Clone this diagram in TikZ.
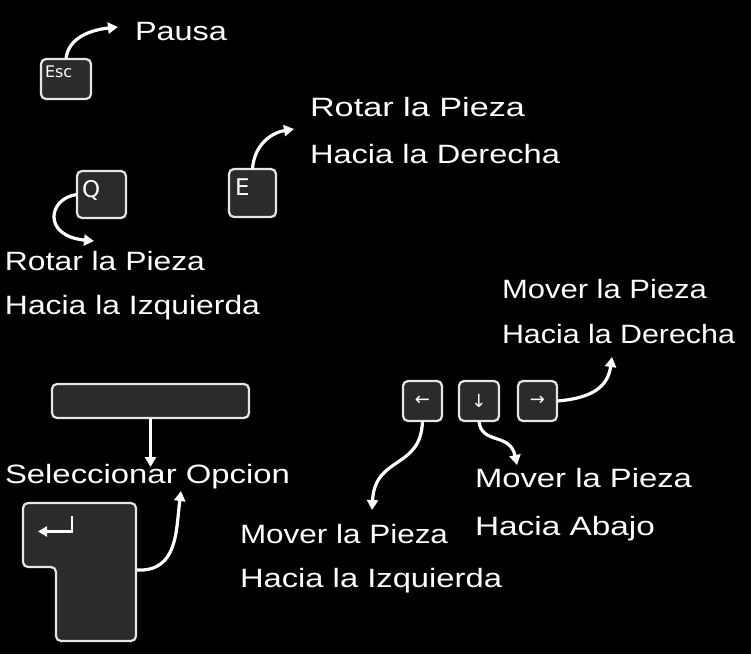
\documentclass[tikz,border=0pt]{standalone}
\usepackage{fontspec}
\usepackage{graphicx}
\usetikzlibrary{arrows.meta}
\newfontfamily\pixf{Liberation Sans}
\newfontfamily\keyf{DejaVu Sans}
\newcommand{\fitw}[2]{\resizebox{#1}{\height}{#2}}
\definecolor{keyfill}{HTML}{2C2A2D}
\definecolor{keyedge}{HTML}{E6E6E6}
\begin{document}
\begin{tikzpicture}[x=1pt,y=-1pt,
 key/.style={draw=keyedge, fill=keyfill, line width=2.2pt, rounded corners=5pt, anchor=north west, inner sep=0pt, outer sep=0pt},
 lbl/.style={text=white, inner sep=0pt, outer sep=0pt, anchor=base west, font=\pixf\fontsize{26.5}{30}\selectfont},
 keylbl/.style={text=white, inner sep=0pt, outer sep=0pt, anchor=base west},
 arrlbl/.style={text=white, inner sep=0pt, font=\keyf\fontsize{18}{20}\selectfont},
 conn/.style={draw=white, line width=3.2pt, -{Triangle[length=10pt,width=11pt]}},
]
\fill[black] (0,0) rectangle (751,654);
\useasboundingbox (0,0) rectangle (751,654);

% keys
\node[key, minimum width=50pt, minimum height=40pt] (esc) at (41,59) {};
\node[key, minimum width=49pt, minimum height=47pt] (q) at (77,171) {};
\node[key, minimum width=47pt, minimum height=48pt] (e) at (229,169) {};
\node[key, minimum width=39pt, minimum height=40pt] (left) at (403,381) {};
\node[key, minimum width=40pt, minimum height=40pt] (down) at (459,381) {};
\node[key, minimum width=39pt, minimum height=40pt] (right) at (518,381) {};
\node[key, minimum width=197pt, minimum height=34pt] (space) at (52,384) {};
\draw[draw=keyedge, fill=keyfill, line width=2.2pt, rounded corners=5pt]
  (80,503) -- (136,503) -- (136,641) -- (56,641) -- (56,567) -- (23,567) -- (23,503) -- cycle;
\coordinate (enterR) at (137,570);

% key labels
\node[keylbl, font=\keyf\fontsize{16}{18}\selectfont] (esclbl) at (45,77) {Esc};
\node[keylbl, font=\keyf\fontsize{23}{26}\selectfont] (qlbl) at (82,197) {Q};
\node[keylbl, font=\keyf\fontsize{23}{26}\selectfont] (elbl) at (235,195) {E};
\node[arrlbl] (leftlbl) at (left.center) {←};
\node[arrlbl] (downlbl) at (down.center) {↓};
\node[arrlbl] (rightlbl) at (right.center) {→};
\draw[white, line width=2.5pt, -{Triangle[length=9pt,width=10pt]}] (72,516) -- (72,531.5) -- (38,531.5);

% texts
\node[lbl] (pausa) at (135,40) {\fitw{92pt}{Pausa}};
\node[lbl] (rotR1) at (310,116) {\fitw{215pt}{Rotar la Pieza}};
\node[lbl] (rotR2) at (310,163) {\fitw{250pt}{Hacia la Derecha}};
\node[lbl] (rotL1) at (5,270) {\fitw{200pt}{Rotar la Pieza}};
\node[lbl] (rotL2) at (5,314) {\fitw{255pt}{Hacia la Izquierda}};
\node[lbl] (movR1) at (502,298) {\fitw{205pt}{Mover la Pieza}};
\node[lbl] (movR2) at (502,343) {\fitw{233pt}{Hacia la Derecha}};
\node[lbl] (sel) at (5,483) {\fitw{285pt}{Seleccionar Opcion}};
\node[lbl] (movD1) at (475,487) {\fitw{217pt}{Mover la Pieza}};
\node[lbl] (movD2) at (475,535) {\fitw{180pt}{Hacia Abajo}};
\node[lbl] (movL1) at (240,543) {\fitw{208pt}{Mover la Pieza}};
\node[lbl] (movL2) at (240,587) {\fitw{262pt}{Hacia la Izquierda}};

% arrow targets
\coordinate (tPausa) at (118,27);
\coordinate (tRotR) at (294,129);
\coordinate (tRotL) at (94,241);
\coordinate (tMovR) at (612,357);
\coordinate (tMovL) at (372,510);
\coordinate (tMovD) at (517,465);
\coordinate (tSel) at (150.5,467);
\coordinate (tSelB) at (181,491);

% connectors
\draw[conn] (esc.north) .. controls (68,38) and (90,30) .. (tPausa);
\draw[conn] (e.north) .. controls (254,146) and (270,133) .. (tRotR);
\draw[conn] (q.west) .. controls (48,198) and (42,236) .. (tRotL);
\draw[conn] (right.east) .. controls (595,398) and (608,385) .. (tMovR);
\draw[conn] (left.south) .. controls (421,470) and (375,455) .. (tMovL);
\draw[conn] (down.south) .. controls (481,445) and (510,432) .. (tMovD);
\draw[conn] (space.south) -- (tSel);
\draw[conn] (enterR) .. controls (178,572) and (176,530) .. (tSelB);
\end{tikzpicture}
\end{document}
